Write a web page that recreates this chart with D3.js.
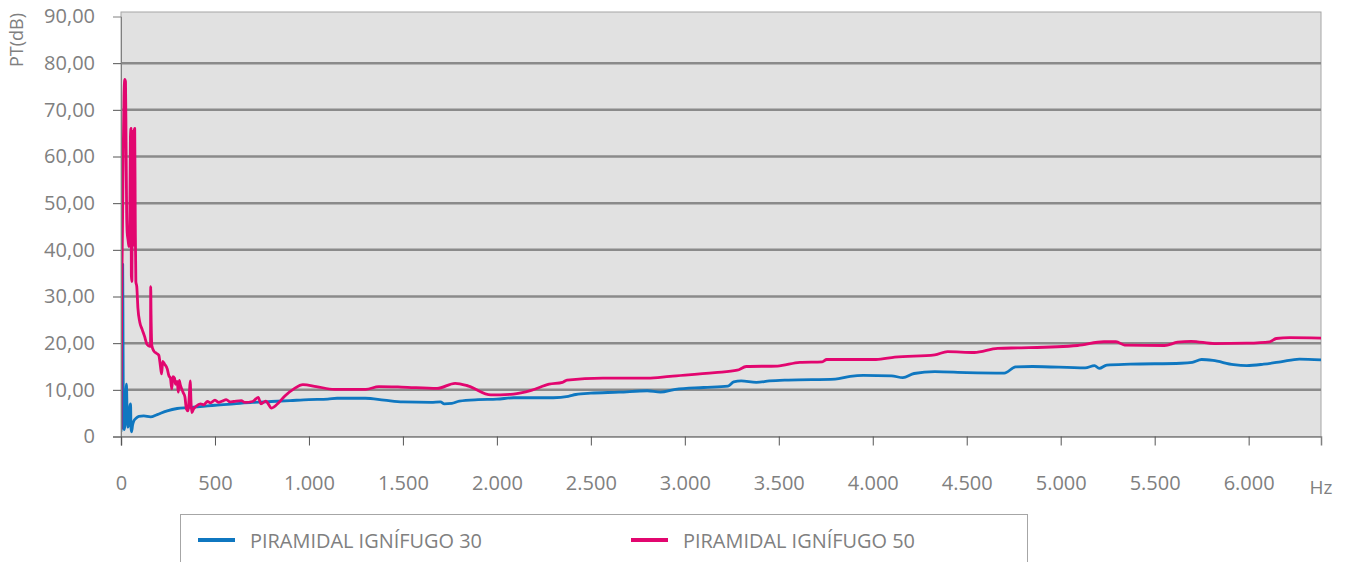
<!DOCTYPE html>
<html><head><meta charset="utf-8">
<script src="https://cdn.jsdelivr.net/npm/d3@7"></script>
<style>
body{margin:0;background:#fff;}
svg{display:block;}
text{font-family:"Open Sans",sans-serif;fill:#808080;}
</style>
</head><body>
<svg id="chart" width="1351" height="562"></svg>
<script>
// ---- data ----
const xTicks = [0,500,1000,1500,2000,2500,3000,3500,4000,4500,5000,5500,6000];
const xTickLabels = ["0","500","1.000","1.500","2.000","2.500","3.000","3.500","4.000","4.500","5.000","5.500","6.000"];
const yTicks = [0,10,20,30,40,50,60,70,80,90];
const yTickLabels = ["0","10,00","20,00","30,00","40,00","50,00","60,00","70,00","80,00","90,00"];
const seriesNames = ["PIRAMIDAL IGNÍFUGO 30","PIRAMIDAL IGNÍFUGO 50"];
const seriesColors = ["#0f77c0","#e2066f"];
const xMax = 6385;
const yMax = 90;

// [Hz, dB]
const ignifugo30 = [
[0,1],[5,18],[9,36.9],[11,20],[13,2],[18,1.5],[24,6],[29,11.2],[32,6],[36,2],[42,3],[47,6.5],[51,7],[53,2],[56,1],
[62,2.5],[68,3.3],[80,3.9],[95,4.3],[121,4.4],[157,4.2],[193,4.7],[246,5.5],[299,6],[352,6.2],[420,6.4],[500,6.7],
[600,7.0],[700,7.3],[800,7.5],[900,7.7],[1000,7.9],[1100,8.0],[1150,8.2],[1300,8.2],[1400,7.8],[1500,7.4],[1650,7.3],
[1700,7.4],[1720,7.0],[1760,7.1],[1800,7.6],[1900,7.9],[2000,8.0],[2090,8.3],[2300,8.3],[2380,8.6],[2420,9.0],[2500,9.3],
[2650,9.5],[2800,9.8],[2870,9.5],[2950,10.1],[3100,10.5],[3230,10.8],[3260,11.7],[3300,11.9],[3380,11.6],[3450,11.9],
[3550,12.1],[3800,12.3],[3880,12.9],[3950,13.1],[4100,13.0],[4160,12.6],[4220,13.5],[4330,13.9],[4500,13.7],[4700,13.6],
[4760,14.9],[4850,15.0],[5130,14.7],[5180,15.2],[5205,14.6],[5245,15.3],[5370,15.5],[5640,15.7],[5700,15.9],[5750,16.5],
[5810,16.3],[5920,15.4],[5990,15.2],[6080,15.5],[6170,16.0],[6270,16.6],[6385,16.4]
];
const ignifugo50 = [
[0,1.5],[4,30],[8,45],[12,61],[16,73],[20,76.5],[24,76],[27,63],[30,48],[33,43.7],[38,42],[42,40.7],[46,42.5],[50,64],
[53,66],[55,34.5],[58,33.2],[61,65.4],[64,59],[67,41],[70,65.4],[73,66],[76,46],[79,33.2],[84,32.1],[90,27.5],[100,24.5],
[112,23],[125,21.5],[139,19.7],[153,19.3],[157,19.5],[158,32.1],[160,26],[164,19.5],[175,18.3],[190,17.8],[201,17.4],
[210,15],[216,13.4],[222,16.1],[232,15.5],[246,14.5],[255,13],[263,12.5],[270,10.2],[276,12.8],[285,12.5],[290,11.2],
[299,11.8],[305,9.5],[310,12],[316,11],[330,9.5],[340,8.5],[348,5.9],[356,5.5],[363,8.5],[368,11.9],[373,7],[377,5.1],
[385,5.8],[400,6.5],[423,7],[440,6.8],[460,7.5],[476,7.2],[500,7.8],[520,7.3],[540,7.6],[560,7.9],[580,7.4],[600,7.5],
[640,7.7],[659,7.3],[700,7.5],[730,8.4],[745,7.0],[770,7.6],[801,6.1],[840,7.3],[872,8.7],[920,10.2],[968,11.1],
[1039,10.7],[1135,10.1],[1302,10.1],[1372,10.7],[1492,10.6],[1682,10.3],[1778,11.4],[1849,10.8],[1968,8.9],[2088,9.1],
[2183,9.9],[2278,11.2],[2349,11.6],[2373,12.1],[2564,12.5],[2802,12.5],[2921,12.9],[3160,13.7],[3279,14.2],[3327,15.0],
[3493,15.1],[3612,15.9],[3731,16.0],[3755,16.5],[4017,16.5],[4117,17.0],[4330,17.5],[4398,18.2],[4540,18.0],[4665,18.9],
[4789,19.0],[5090,19.5],[5230,20.3],[5294,20.3],[5340,19.6],[5552,19.5],[5622,20.2],[5694,20.4],[5819,19.9],[5990,20.0],
[6112,20.3],[6147,21.0],[6218,21.2],[6385,21.1]
];
const seriesData = [ignifugo30, ignifugo50];

// ---- layout ----
const svg = d3.select("#chart");
const L = 121, R = 1321, T = 12, B = 436.5;
const x = d3.scaleLinear().domain([0, xMax]).range([L, R]);
const y = d3.scaleLinear().domain([0, yMax]).range([B, 16.5]);

svg.append("rect").attr("width",1351).attr("height",562).attr("fill","#fff");

// plot background
svg.append("rect").attr("x",L).attr("y",T).attr("width",R-L).attr("height",B-T)
  .attr("fill","#e1e1e1").attr("stroke","#a6a6a6").attr("stroke-width",1);

// grid lines
svg.append("g").selectAll("line").data(yTicks.filter(d=>d>0 && d<yMax)).join("line")
  .attr("x1",L).attr("x2",R).attr("y1",d=>y(d)).attr("y2",d=>y(d))
  .attr("stroke","#8a8a8a").attr("stroke-width",2.5);

// clip
svg.append("clipPath").attr("id","clip").append("rect")
  .attr("x",L).attr("y",T).attr("width",R-L).attr("height",B-T);

// lines
const line = d3.line().x(d=>x(d[0])).y(d=>y(d[1])).curve(d3.curveMonotoneX);
svg.append("g").attr("clip-path","url(#clip)").selectAll("path").data(seriesData).join("path")
  .attr("d",line).attr("fill","none")
  .attr("stroke",(d,i)=>seriesColors[i]).attr("stroke-width",2.8)
  .attr("stroke-linejoin","round");

// y axis
const yAxis = d3.axisLeft(y).tickValues(yTicks).tickSize(8).tickPadding(18)
  .tickFormat((d,i)=>yTickLabels[i]);
const gy = svg.append("g").attr("transform",`translate(${L},0)`).call(yAxis);
gy.select(".domain").attr("stroke","#808080");
gy.selectAll(".tick line").attr("stroke","#555").attr("display",d=>d===yMax?"none":null);
gy.selectAll(".tick text").attr("fill","#808080").style("font-size","20px").style("font-family","'Open Sans',sans-serif");

// x axis
const xAxis = d3.axisBottom(x).tickValues(xTicks).tickSize(9).tickPadding(30)
  .tickFormat((d,i)=>xTickLabels[i]);
const gx = svg.append("g").attr("transform",`translate(0,${B})`).call(xAxis);
gx.select(".domain").attr("stroke","#808080").attr("stroke-width",1.5);
gx.selectAll(".tick line").attr("stroke","#555");
gx.selectAll(".tick text").attr("fill","#808080").style("font-size","20px").style("font-family","'Open Sans',sans-serif");

// axis titles
svg.append("text").attr("x",R).attr("y",494).attr("text-anchor","middle")
  .style("font-size","19px").text("Hz");
svg.append("text").attr("transform","translate(23,40) rotate(-90)").attr("text-anchor","middle")
  .style("font-size","18px").text("PT(dB)");

// legend
svg.append("rect").attr("x",180.5).attr("y",514.5).attr("width",847).attr("height",70)
  .attr("fill","#fff").attr("stroke","#a6a6a6");
const legX = [198, 631];
const lg = svg.append("g").selectAll("g").data(seriesNames).join("g")
  .attr("transform",(d,i)=>`translate(${legX[i]},540)`);
lg.append("line").attr("x1",0).attr("x2",37).attr("y1",0).attr("y2",0)
  .attr("stroke",(d,i)=>seriesColors[i]).attr("stroke-width",4);
lg.append("text").attr("x",52).attr("y",7.5).style("font-size","20px")
  .attr("textLength",232).attr("lengthAdjust","spacingAndGlyphs").text(d=>d);
</script>
</body></html>
